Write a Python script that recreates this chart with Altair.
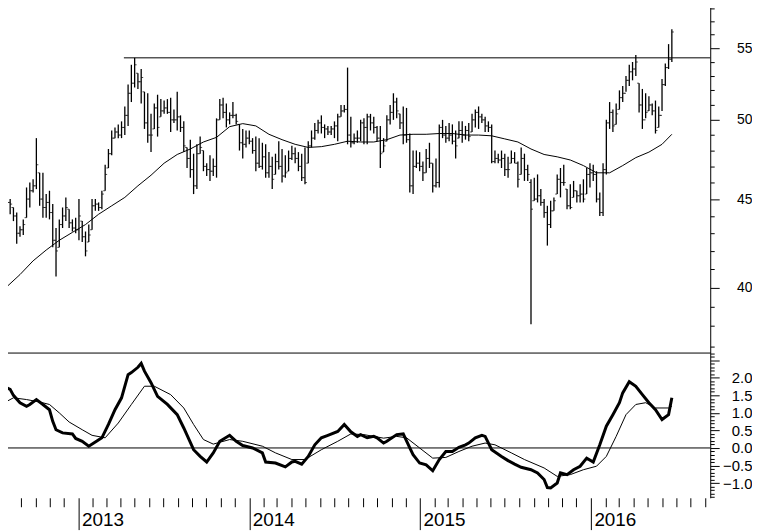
import altair as alt
import pandas as pd

START = "2012-08-01"

# weekly OHLC
opens = [
    45.5, 44.8, 44.5, 44.0, 43.0, 43.2, 43.9, 45.0, 45.5, 45.8,
    46.6, 45.0, 44.5, 44.8, 44.2, 42.6, 42.2, 43.5, 44.0, 44.4,
    43.6, 43.3, 43.2, 43.7, 42.8, 42.5, 43.2, 44.6, 44.7, 44.5,
    45.5, 46.9, 47.8, 48.8, 49.2, 49.0, 49.5, 50.3, 51.8, 52.5,
    53.2, 52.6, 51.9, 49.8, 49.0, 49.4, 50.8, 50.2, 50.6, 50.8,
    50.5, 50.0,
    50.0, 50.2, 49.5, 48.2, 47.5, 46.8, 45.8, 47.8, 48.0, 47.0,
    46.8, 46.7, 47.0, 50.0, 51.0, 50.5, 50.0, 50.3, 50.3, 49.7,
    48.5, 48.4, 48.8, 48.6, 48.0, 47.2, 47.0, 47.6, 46.6, 47.0,
    46.5, 47.3, 47.0, 46.4, 46.7, 47.5, 47.8, 47.5, 47.0, 46.3,
    47.2, 48.3, 48.8, 49.3, 49.8, 49.5, 49.4, 49.2, 49.4, 49.6,
    50.2, 50.6,
    50.7, 49.0, 48.5, 48.8, 48.8, 49.8, 49.5, 50.2, 49.8, 49.5,
    48.8, 47.9, 48.6, 50.0, 50.5, 51.2, 50.4, 49.8, 49.0, 48.7,
    45.8, 47.0, 47.2, 47.0, 46.6, 47.5, 47.2, 45.8, 46.0, 49.5,
    49.0, 48.8, 49.0, 48.6, 48.8, 49.3, 49.0, 49.3, 49.2, 50.0,
    50.5, 50.2, 50.0, 49.6, 49.5, 47.3, 47.5, 47.4, 47.5, 46.8,
    47.2, 47.5,
    47.2, 46.5, 47.5, 46.8, 46.0, 44.9, 45.0, 45.2, 44.8, 44.2,
    43.5, 44.3, 45.3, 46.2, 46.0, 45.6, 44.6, 45.1, 45.5, 45.2,
    45.3, 45.3, 46.5, 46.6, 46.5, 45.0, 44.2, 46.8, 49.8, 50.5,
    49.7, 50.7, 51.5, 51.8, 52.7, 53.3, 53.5, 52.5, 51.0, 50.0,
    50.6, 51.0, 50.6, 49.5, 50.3, 52.4, 53.6, 54.2,
]
highs = [
    46.6, 45.0, 44.5, 44.2, 43.4, 43.8, 45.7, 46.0, 46.2, 48.8,
    46.6, 46.6, 45.3, 45.5, 44.7, 43.3, 43.8, 44.5, 45.1, 44.4,
    43.8, 43.9, 45.0, 43.7, 43.1, 43.5, 45.0, 45.0, 44.8, 45.5,
    47.1, 48.1, 49.3, 49.5, 49.7, 49.9, 50.9, 52.4, 53.8, 54.3,
    53.2, 53.5, 51.9, 51.8, 50.4, 51.1, 51.7, 51.4, 51.3, 51.4,
    51.5, 50.7,
    51.9, 50.3, 49.9, 48.2, 48.7, 47.8, 48.4, 48.9, 48.0, 47.2,
    47.7, 47.5, 50.1, 51.4, 51.5, 51.1, 50.5, 51.2, 50.4, 49.7,
    49.4, 49.3, 49.3, 48.8, 48.9, 48.8, 48.5, 48.4, 47.9, 47.6,
    47.8, 48.6, 48.1, 47.7, 48.0, 48.3, 48.2, 47.9, 47.8, 48.2,
    48.6, 49.3, 49.8, 50.0, 50.3, 49.7, 49.6, 49.6, 49.9, 50.4,
    51.0, 51.0,
    53.6, 50.2, 49.1, 49.3, 50.0, 50.1, 50.4, 50.4, 50.2, 49.6,
    49.6, 48.8, 50.3, 51.0, 51.8, 51.5, 50.4, 50.9, 50.8, 49.1,
    48.0, 48.0, 47.9, 47.3, 48.1, 48.5, 47.2, 47.5, 49.7, 50.0,
    49.6, 49.8, 49.7, 49.3, 49.9, 49.9, 49.6, 49.8, 50.4, 50.7,
    50.9, 50.4, 50.2, 49.9, 49.7, 48.0, 47.8, 48.0, 47.8, 47.6,
    48.0, 47.9,
    47.3, 48.2, 47.8, 47.1, 46.2, 46.3, 46.5, 45.6, 45.0, 44.6,
    44.9, 45.1, 46.5, 46.9, 47.1, 45.6, 45.9, 46.1, 45.5, 45.9,
    46.2, 46.9, 47.2, 47.1, 46.7, 45.4, 47.2, 50.0, 51.2, 50.7,
    51.1, 52.0, 52.3, 53.0, 53.8, 54.0, 54.5, 52.5, 52.1, 51.8,
    51.6, 51.1, 51.3, 50.9, 52.8, 53.9, 55.3, 56.4,
]
lows = [
    44.3, 44.1, 43.7, 42.4, 42.8, 42.9, 43.9, 44.5, 45.4, 45.6,
    44.6, 43.9, 43.9, 43.8, 42.2, 40.6, 42.2, 43.3, 43.7, 43.3,
    43.1, 43.0, 42.6, 42.5, 41.7, 42.5, 43.2, 44.3, 44.3, 44.4,
    45.5, 46.9, 47.7, 48.8, 48.8, 48.8, 49.0, 49.6, 51.2, 52.2,
    52.1, 51.1, 49.4, 48.5, 47.9, 49.4, 48.9, 50.2, 50.4, 50.4,
    49.2, 49.8,
    49.3, 49.2, 47.9, 46.9, 46.3, 45.3, 45.6, 47.8, 46.7, 46.4,
    46.1, 46.4, 46.3, 50.0, 50.1, 49.5, 49.7, 50.1, 49.7, 48.0,
    47.5, 48.2, 48.4, 47.8, 46.7, 46.9, 46.8, 46.3, 46.3, 45.6,
    46.5, 46.8, 46.0, 46.3, 46.7, 47.4, 47.2, 46.7, 46.1, 45.9,
    47.2, 48.2, 48.7, 49.1, 49.1, 48.8, 49.0, 49.0, 48.8, 48.6,
    50.2, 50.5,
    48.4, 48.2, 48.4, 48.5, 48.6, 48.4, 48.4, 49.3, 49.1, 48.6,
    46.9, 47.9, 48.6, 49.7, 50.0, 50.1, 49.4, 48.4, 48.5, 45.4,
    45.3, 46.9, 46.7, 46.1, 46.6, 46.9, 45.4, 45.7, 45.7, 48.8,
    48.5, 48.6, 48.4, 47.5, 48.8, 48.5, 48.7, 48.6, 49.2, 49.5,
    49.4, 49.8, 49.2, 49.2, 47.2, 47.2, 47.2, 46.9, 46.4, 46.3,
    47.2, 47.2,
    45.7, 46.5, 46.1, 46.1, 38.1, 44.9, 44.8, 44.6, 43.9, 42.3,
    43.3, 44.3, 45.3, 45.1, 45.8, 44.4, 44.4, 45.1, 44.8, 44.8,
    44.8, 45.3, 45.7, 46.1, 44.8, 44.0, 44.0, 46.5, 49.4, 49.2,
    49.7, 50.7, 51.2, 51.9, 52.3, 52.7, 53.0, 50.5, 49.4, 50.1,
    50.6, 50.3, 49.1, 49.5, 50.6, 52.3, 53.5, 54.0,
]
closes = [
    44.8, 44.7, 44.0, 43.0, 43.2, 43.5, 45.0, 45.5, 45.8, 47.1,
    45.0, 44.5, 44.8, 44.2, 42.6, 42.0, 43.5, 44.0, 44.5, 43.6,
    43.3, 43.2, 44.0, 42.8, 42.0, 42.9, 44.6, 44.7, 44.5, 45.3,
    46.5, 47.8, 48.8, 49.2, 49.0, 49.5, 50.3, 51.8, 52.5, 53.8,
    52.6, 52.9, 49.8, 49.0, 49.0, 50.8, 49.5, 50.6, 50.8, 50.5,
    50.0, 50.0,
    50.2, 49.5, 48.3, 47.5, 46.8, 45.8, 47.8, 48.2, 47.0, 46.8,
    46.7, 47.0, 50.0, 51.0, 50.5, 50.0, 50.3, 50.3, 49.9, 48.5,
    48.4, 48.8, 48.6, 48.0, 47.2, 47.0, 47.6, 46.6, 47.0, 46.2,
    47.3, 47.0, 46.4, 46.6, 47.5, 47.8, 47.5, 47.0, 46.3, 46.0,
    48.3, 48.8, 49.3, 49.8, 49.5, 49.4, 49.2, 49.4, 49.6, 50.2,
    50.6, 50.7,
    49.0, 48.5, 48.8, 48.8, 49.8, 49.5, 50.2, 49.8, 49.5, 48.8,
    47.8, 48.3, 50.0, 50.5, 51.2, 50.6, 49.8, 49.0, 48.7, 45.8,
    47.0, 47.2, 47.0, 46.6, 47.5, 47.2, 45.8, 46.0, 49.5, 49.0,
    48.8, 49.0, 48.6, 48.3, 49.3, 49.0, 49.3, 48.9, 50.0, 50.5,
    50.2, 50.0, 49.6, 49.5, 47.3, 47.5, 47.4, 47.5, 46.8, 46.8,
    47.5, 47.2,
    46.2, 47.5, 46.8, 46.5, 44.4, 45.0, 45.2, 44.8, 44.2, 43.5,
    44.3, 44.9, 46.2, 46.0, 46.0, 44.6, 44.5, 45.5, 45.2, 45.3,
    45.0, 46.5, 46.6, 46.5, 45.0, 44.2, 46.8, 49.8, 50.5, 49.6,
    50.4, 51.5, 51.8, 52.7, 53.3, 53.5, 54.0, 51.0, 50.0, 50.5,
    51.0, 50.6, 49.3, 50.3, 52.4, 53.6, 54.2, 56.2,
]

# moving average (week index, value)
ma_weeks = [0, 4, 8, 12, 16, 20, 24, 28, 32, 36, 40, 44, 48, 52, 56, 60, 64, 68,
            72, 76, 80, 84, 88, 92, 96, 100, 104, 108, 112, 116, 120, 124, 128,
            132, 136, 140, 144, 148, 152, 156, 160, 164, 168, 172, 176, 180, 184,
            188, 192, 196, 200, 203]
ma_values = [40.05, 40.7, 41.45, 42.05, 42.6, 43.05, 43.5, 44.1, 44.6, 45.1, 45.8,
             46.45, 47.2, 47.75, 48.1, 48.55, 48.85, 49.55, 49.75, 49.6, 49.05,
             48.7, 48.4, 48.2, 48.25, 48.4, 48.6, 48.55, 48.55, 48.7, 49.0, 49.05,
             49.05, 49.1, 49.1, 49.0, 49.0, 48.95, 48.75, 48.55, 48.1, 47.75, 47.6,
             47.4, 47.05, 46.6, 46.6, 47.05, 47.55, 47.9, 48.4, 49.05]

# resistance line
res_level = 54.3
res_start = "2013-04-08"
res_end = "2016-09-12"

# oscillator (thick) and signal (thin): week index, value
osc_weeks = [0, 1, 2, 4, 6, 7, 9, 11, 13, 14, 15, 17, 20, 21, 23, 25, 27, 29, 31, 33,
             35, 37, 38, 40, 41, 42, 44, 46, 49, 52, 54, 57, 59, 61, 63, 65, 68, 70,
             72, 75, 78, 79, 82, 85, 87, 88, 90, 92, 94, 96, 98, 101, 103, 105, 107,
             108, 110, 112, 113, 115, 116, 119, 121, 123, 124, 126, 128, 130, 132,
             134, 136, 138, 140, 141, 143, 145, 146, 148, 151, 153, 155, 157, 160,
             162, 164, 165, 166, 168, 169, 171, 173, 175, 177, 179, 181, 183, 185,
             187, 188, 190, 192, 194, 196, 198, 200, 202, 203]
osc_values = [1.71, 1.67, 1.5, 1.29, 1.19, 1.24, 1.38, 1.24, 1.09, 0.76, 0.52, 0.43,
              0.40, 0.27, 0.19, 0.05, 0.17, 0.29, 0.67, 1.09, 1.43, 2.09, 2.15, 2.30,
              2.41, 2.19, 1.86, 1.47, 1.24, 0.95, 0.57, -0.05, -0.24, -0.40, -0.14,
              0.19, 0.36, 0.19, 0.07, 0.00, -0.14, -0.40, -0.43, -0.54, -0.40, -0.38,
              -0.46, -0.24, 0.09, 0.29, 0.36, 0.47, 0.67, 0.46, 0.33, 0.38, 0.29, 0.33,
              0.29, 0.14, 0.19, 0.38, 0.40, 0.00, -0.19, -0.43, -0.48, -0.65, -0.33,
              -0.10, -0.10, 0.02, 0.09, 0.14, 0.29, 0.36, 0.33, -0.05, -0.24, -0.36,
              -0.46, -0.55, -0.62, -0.71, -0.90, -1.13, -1.14, -1.00, -0.71, -0.76,
              -0.62, -0.52, -0.29, -0.40, 0.09, 0.62, 0.95, 1.29, 1.57, 1.89, 1.76,
              1.52, 1.29, 1.09, 0.81, 0.95, 1.43]
sig_weeks = [0, 2, 6, 10, 13, 16, 19, 23, 26, 30, 34, 38, 42, 45, 50, 54, 57, 60, 63,
             68, 72, 78, 82, 87, 91, 96, 101, 105, 109, 115, 119, 122, 126, 130, 134,
             138, 142, 146, 149, 154, 158, 164, 168, 172, 176, 180, 183, 186, 189,
             192, 195, 198, 202, 203]
sig_values = [1.33, 1.43, 1.38, 1.31, 1.24, 1.00, 0.74, 0.52, 0.36, 0.29, 0.71, 1.24,
              1.76, 1.76, 1.52, 1.14, 0.67, 0.24, 0.11, 0.24, 0.19, 0.05, -0.14, -0.33,
              -0.33, -0.05, 0.19, 0.40, 0.38, 0.28, 0.33, 0.29, 0.00, -0.29, -0.27,
              -0.10, 0.05, 0.14, 0.09, -0.14, -0.33, -0.57, -0.81, -0.76, -0.62, -0.52,
              -0.24, 0.33, 0.95, 1.24, 1.29, 1.14, 1.14, 1.19]

start = pd.Timestamp(START)
dates = pd.date_range(START, periods=len(closes), freq="7D")
bars = pd.DataFrame({"date": dates, "open": opens, "high": highs, "low": lows, "close": closes})
ma_df = pd.DataFrame({"date": [start + pd.Timedelta(days=7 * w) for w in ma_weeks], "ma": ma_values})
res_df = pd.DataFrame({"start": [pd.Timestamp(res_start)], "end": [pd.Timestamp(res_end)], "level": [res_level]})
osc_df = pd.DataFrame({"date": [start + pd.Timedelta(days=7 * w) for w in osc_weeks], "v": osc_values})
sig_df = pd.DataFrame({"date": [start + pd.Timedelta(days=7 * w) for w in sig_weeks], "v": sig_values})
zero_df = pd.DataFrame({"v": [0.0]})

FONT = "Liberation Sans"
W = 709

xscale = alt.Scale(domain=[alt.DateTime(year=2012, month=7, date=28),
                           alt.DateTime(year=2016, month=9, date=12)])
xaxis_up = alt.Axis(orient="bottom", labels=False, ticks=False, domain=True,
                    domainColor="black", domainWidth=1, title=None, grid=False)

yscale_up = alt.Scale(type="log", domain=[36.69, 58.53], nice=False, zero=False)
yaxis_up = alt.Axis(
    orient="right", values=list(range(37, 59)), title=None, grid=False,
    domainColor="black", domainWidth=1, tickColor="black", tickWidth=1,
    tickSize={"condition": {"test": "datum.value % 5 == 0", "value": 9}, "value": 4},
    labelExpr="datum.value % 5 == 0 ? datum.label : ''",
    labelFontSize={"condition": {"test": "datum.value % 5 == 0", "value": 14}, "value": 1},
    labelAlign="right", labelPadding=33, labelFont=FONT,
    labelColor="black", labelOverlap=False,
)

X_up = alt.X("date:T", scale=xscale, axis=xaxis_up)

hl = alt.Chart(bars).mark_rule(color="black", strokeWidth=1.3).encode(
    x=X_up, y=alt.Y("low:Q", scale=yscale_up, axis=yaxis_up), y2="high:Q")
op = alt.Chart(bars).mark_tick(color="black", orient="horizontal", size=2, thickness=1,
                               xOffset=-1).encode(
    x=X_up, y=alt.Y("open:Q", scale=yscale_up, axis=yaxis_up))
cl = alt.Chart(bars).mark_tick(color="black", orient="horizontal", size=2, thickness=1,
                               xOffset=1).encode(
    x=X_up, y=alt.Y("close:Q", scale=yscale_up, axis=yaxis_up))
ma = alt.Chart(ma_df).mark_line(color="black", strokeWidth=1).encode(
    x=X_up, y=alt.Y("ma:Q", scale=yscale_up, axis=yaxis_up))
res = alt.Chart(res_df).mark_rule(color="black", strokeWidth=1).encode(
    x=alt.X("start:T", scale=xscale, axis=xaxis_up), x2="end:T",
    y=alt.Y("level:Q", scale=yscale_up, axis=yaxis_up))

upper = alt.layer(hl, op, cl, ma, res).properties(width=W, height=353)

month_ticks = [alt.DateTime(year=y, month=m, date=1)
               for y in range(2012, 2017) for m in range(1, 13)
               if (2012, 8) <= (y, m) <= (2016, 9)]
xaxis_lo = alt.Axis(
    orient="bottom", values=month_ticks, domain=False, grid=False, title=None,
    tickColor="black", tickWidth=1,
    tickSize={"condition": {"test": "month(datum.value) == 0", "value": 32}, "value": 9},
    labelExpr="month(datum.value) == 0 ? timeFormat(datum.value, '%Y') : ''",
    labelAlign="left", labelBaseline="top", labelOffset=3, labelPadding=-19,
    labelFont=FONT, labelFontSize=19, labelColor="black", labelOverlap=False,
    labelFlush=False,
)
lo_vals = [round(-1.4 + 0.1 * k, 1) for k in range(42)]
major_test = "abs(datum.value * 2 - round(datum.value * 2)) < 0.001"
label_test = "(" + major_test + " && datum.value >= -1.05 && datum.value <= 2.05)"
yaxis_lo = alt.Axis(
    orient="right", values=lo_vals, title=None, grid=False,
    domainColor="black", domainWidth=1, tickColor="black", tickWidth=1,
    tickSize={"condition": {"test": major_test, "value": 9}, "value": 4},
    labelExpr=label_test + " ? format(datum.value, '.1f') : ''",
    labelFontSize={"condition": {"test": label_test, "value": 15}, "value": 1},
    labelAlign="right", labelPadding=33, labelFont=FONT,
    labelColor="black", labelOverlap=False,
)
yscale_lo = alt.Scale(domain=[-1.42, 2.72], nice=False, zero=False)
X_lo = alt.X("date:T", scale=xscale, axis=xaxis_lo)

zero = alt.Chart(zero_df).mark_rule(color="black", strokeWidth=1).encode(
    y=alt.Y("v:Q", scale=yscale_lo, axis=yaxis_lo))
sig = alt.Chart(sig_df).mark_line(color="black", strokeWidth=1).encode(
    x=X_lo, y=alt.Y("v:Q", scale=yscale_lo, axis=yaxis_lo))
osc = alt.Chart(osc_df).mark_line(color="black", strokeWidth=3).encode(
    x=X_lo, y=alt.Y("v:Q", scale=yscale_lo, axis=yaxis_lo))

lower = alt.layer(zero, sig, osc).properties(width=W, height=146)

chart = alt.vconcat(upper, lower, spacing=0, bounds="flush").properties(
    padding={"left": -8, "top": -8, "right": 0, "bottom": 0}
).configure_view(stroke=None)

chart.save("out.html", embed_options={"renderer": "svg", "actions": False})
